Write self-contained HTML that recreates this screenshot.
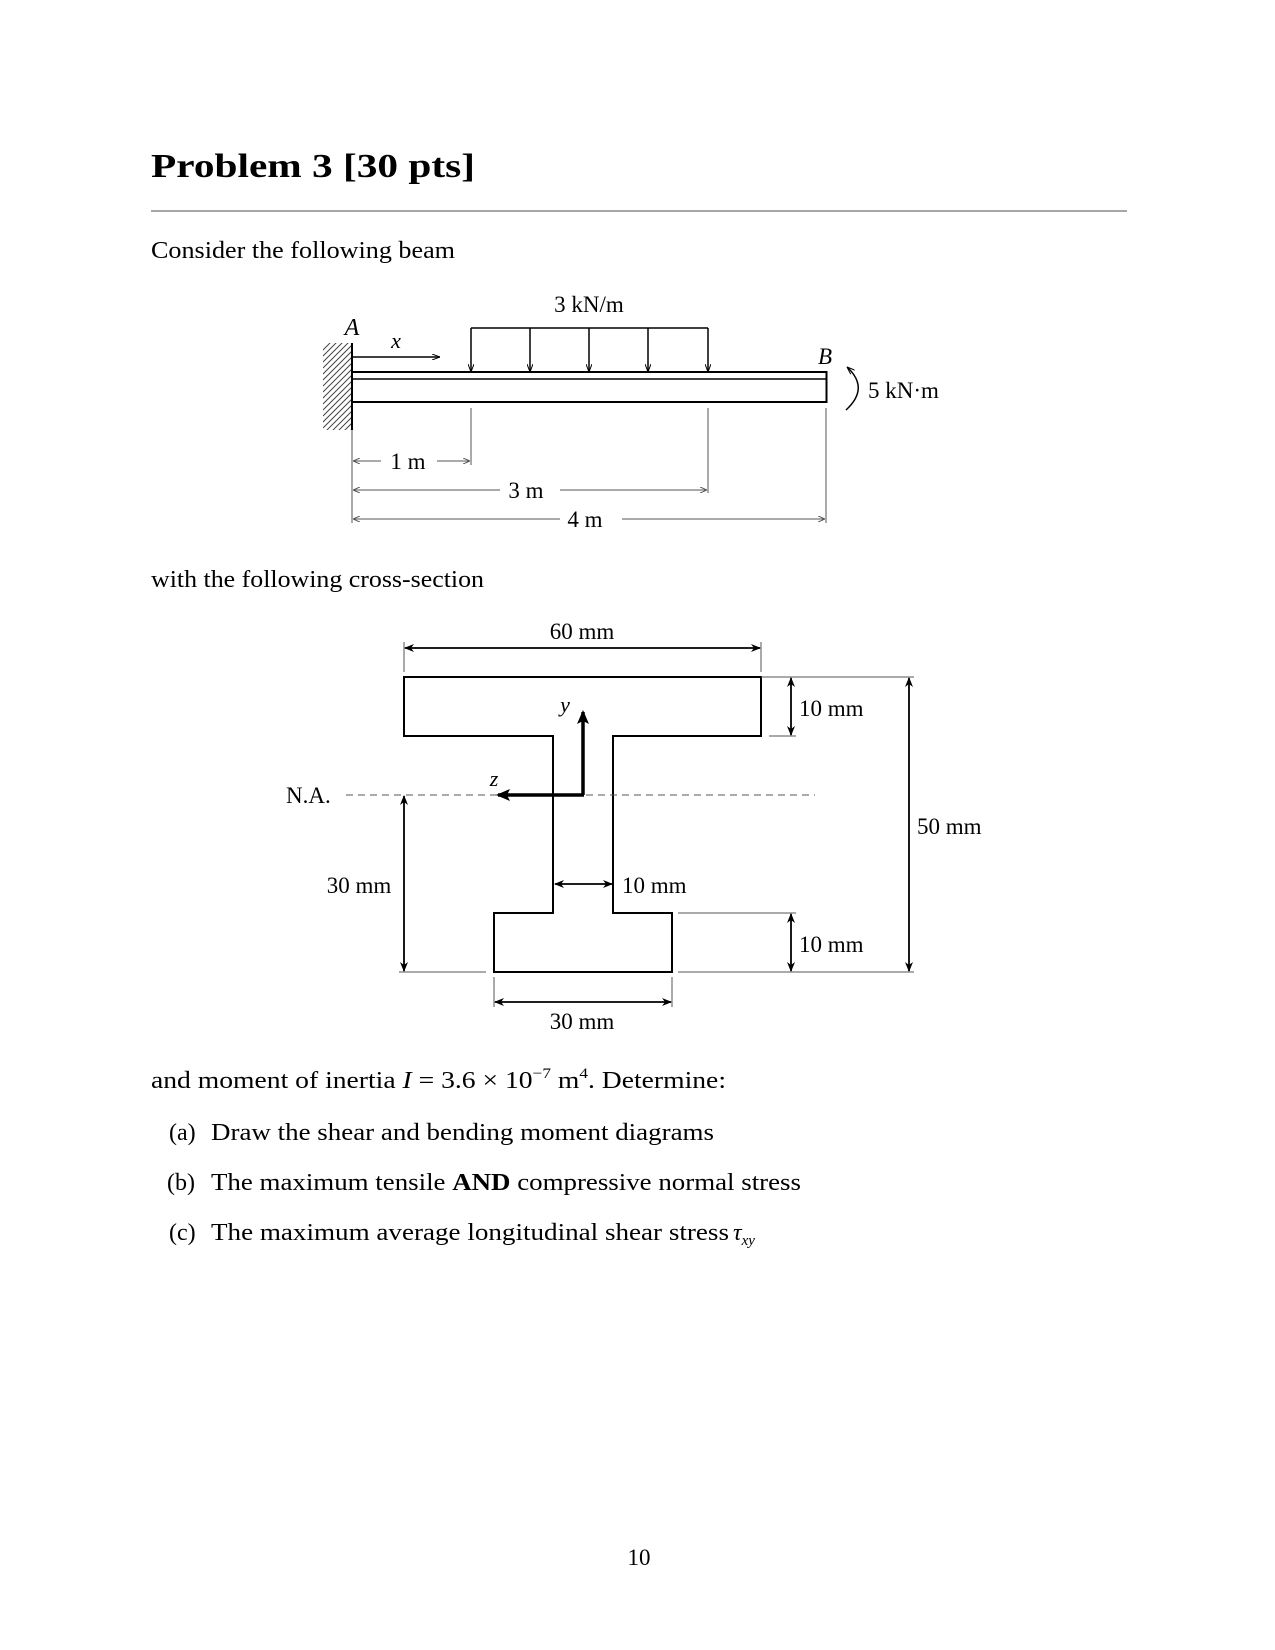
<!DOCTYPE html>
<html><head><meta charset="utf-8"><style>
html,body{margin:0;padding:0;background:#fff;}
svg{display:block;}
text{font-family:"Liberation Serif",serif;fill:#000;}
</style></head><body>
<svg width="1275" height="1650" viewBox="0 0 1275 1650" xmlns="http://www.w3.org/2000/svg">
<defs>
<marker id="ah" markerWidth="10" markerHeight="8" refX="9" refY="4" orient="auto" markerUnits="userSpaceOnUse"><path d="M0,0 L10,4 L0,8 L3,4 Z" fill="#000"/></marker>
<marker id="as" markerWidth="8" markerHeight="6" refX="8" refY="3" orient="auto" markerUnits="userSpaceOnUse"><path d="M0,0 L8,3 L0,6" fill="none" stroke="#000" stroke-width="1"/></marker>
<marker id="ag" markerWidth="7" markerHeight="6" refX="7" refY="3" orient="auto" markerUnits="userSpaceOnUse"><path d="M0,0 L7,3 L0,6" fill="none" stroke="#555" stroke-width="1"/></marker>
<marker id="ab" markerWidth="14" markerHeight="12" refX="12" refY="6" orient="auto" markerUnits="userSpaceOnUse"><path d="M0,0 L14,6 L0,12 L3,6 Z" fill="#000"/></marker>
<clipPath id="wc"><rect x="323" y="343" width="29" height="87"/></clipPath>
</defs>

<!-- Header -->
<text x="151" y="177" font-size="34" font-weight="bold" textLength="324" lengthAdjust="spacingAndGlyphs">Problem 3 [30 pts]</text>
<line x1="151" y1="211" x2="1127" y2="211" stroke="#888" stroke-width="1.5"/>
<text x="151" y="258" font-size="24" textLength="304" lengthAdjust="spacingAndGlyphs">Consider the following beam</text>

<!-- Beam -->
<g clip-path="url(#wc)" stroke="#444" stroke-width="1">
<path d="M323,350 L352,321 M323,356 L352,327 M323,362 L352,333 M323,368 L352,339 M323,374 L352,345 M323,380 L352,351 M323,386 L352,357 M323,392 L352,363 M323,398 L352,369 M323,404 L352,375 M323,410 L352,381 M323,416 L352,387 M323,422 L352,393 M323,428 L352,399 M323,434 L352,405 M323,440 L352,411 M323,446 L352,417 M323,452 L352,423 M323,458 L352,429"/>
</g>
<line x1="352" y1="343" x2="352" y2="430" stroke="#000" stroke-width="2"/>
<rect x="352" y="372" width="474.5" height="30" fill="none" stroke="#000" stroke-width="2"/>
<line x1="352" y1="379" x2="826" y2="379" stroke="#000" stroke-width="1.5"/>
<line x1="352" y1="357" x2="440" y2="357" stroke="#000" stroke-width="1.5" marker-end="url(#as)"/>
<text x="396" y="348" font-size="22" font-style="italic" text-anchor="middle">x</text>
<text x="352" y="335" font-size="24" font-style="italic" text-anchor="middle">A</text>
<line x1="471" y1="328" x2="708" y2="328" stroke="#000" stroke-width="1.5"/>
<g stroke="#000" stroke-width="1.5">
<line x1="471" y1="328" x2="471" y2="372" marker-end="url(#as)"/>
<line x1="530" y1="328" x2="530" y2="372" marker-end="url(#as)"/>
<line x1="589" y1="328" x2="589" y2="372" marker-end="url(#as)"/>
<line x1="648" y1="328" x2="648" y2="372" marker-end="url(#as)"/>
<line x1="708" y1="328" x2="708" y2="372" marker-end="url(#as)"/>
</g>
<text x="589" y="312" font-size="23" text-anchor="middle">3 kN/m</text>
<text x="825" y="364" font-size="23" font-style="italic" text-anchor="middle">B</text>
<path d="M846,410 Q870,388 847,367" fill="none" stroke="#000" stroke-width="1.5" marker-end="url(#as)"/>
<text x="868" y="398" font-size="23">5 kN·m</text>
<!-- dimension lines -->
<g stroke="#555" stroke-width="1">
<line x1="471" y1="408" x2="471" y2="465"/>
<line x1="708" y1="408" x2="708" y2="493"/>
<line x1="826" y1="408" x2="826" y2="523"/>
<line x1="352" y1="430" x2="352" y2="523"/>
<line x1="381" y1="461" x2="353" y2="461" marker-end="url(#ag)"/>
<line x1="437" y1="461" x2="470" y2="461" marker-end="url(#ag)"/>
<line x1="500" y1="490" x2="353" y2="490" marker-end="url(#ag)"/>
<line x1="560" y1="490" x2="707" y2="490" marker-end="url(#ag)"/>
<line x1="560" y1="519" x2="353" y2="519" marker-end="url(#ag)"/>
<line x1="622" y1="519" x2="825" y2="519" marker-end="url(#ag)"/>
</g>
<text x="408" y="469" font-size="23" text-anchor="middle">1 m</text>
<text x="526" y="498" font-size="23" text-anchor="middle">3 m</text>
<text x="585" y="527" font-size="23" text-anchor="middle">4 m</text>

<text x="151" y="587" font-size="24" textLength="333" lengthAdjust="spacingAndGlyphs">with the following cross-section</text>

<!-- Cross-section -->
<path d="M404,677 L761,677 L761,736 L613,736 L613,913 L672,913 L672,972 L494,972 L494,913 L553,913 L553,736 L404,736 Z" fill="none" stroke="#000" stroke-width="2"/>
<line x1="346" y1="795" x2="815" y2="795" stroke="#555" stroke-width="1" stroke-dasharray="7,5"/>
<text x="286" y="803" font-size="23">N.A.</text>
<line x1="583" y1="795" x2="583" y2="712" stroke="#000" stroke-width="3.5" marker-end="url(#ab)"/>
<line x1="584" y1="795" x2="498" y2="795" stroke="#000" stroke-width="3.5" marker-end="url(#ab)"/>
<text x="565" y="712" font-size="22" font-style="italic" text-anchor="middle">y</text>
<text x="494" y="786" font-size="22" font-style="italic" text-anchor="middle">z</text>
<!-- 60 mm -->
<g stroke="#555" stroke-width="1">
<line x1="404" y1="642" x2="404" y2="672"/>
<line x1="761" y1="642" x2="761" y2="672"/>
<line x1="761" y1="677" x2="914" y2="677"/>
<line x1="769" y1="736" x2="796" y2="736"/>
<line x1="678" y1="913" x2="796" y2="913"/>
<line x1="678" y1="972" x2="914" y2="972"/>
<line x1="399" y1="972" x2="486" y2="972"/>
<line x1="494" y1="977" x2="494" y2="1007"/>
<line x1="672" y1="977" x2="672" y2="1007"/>
</g>
<g stroke="#000" stroke-width="1.8">
<line x1="500" y1="648" x2="405" y2="648" marker-end="url(#ah)"/>
<line x1="500" y1="648" x2="760" y2="648" marker-end="url(#ah)"/>
<line x1="791" y1="706" x2="791" y2="678" marker-end="url(#ah)"/>
<line x1="791" y1="706" x2="791" y2="735" marker-end="url(#ah)"/>
<line x1="791" y1="942" x2="791" y2="914" marker-end="url(#ah)"/>
<line x1="791" y1="942" x2="791" y2="971" marker-end="url(#ah)"/>
<line x1="909" y1="820" x2="909" y2="678" marker-end="url(#ah)"/>
<line x1="909" y1="820" x2="909" y2="971" marker-end="url(#ah)"/>
<line x1="404" y1="880" x2="404" y2="796" marker-end="url(#ah)"/>
<line x1="404" y1="880" x2="404" y2="971" marker-end="url(#ah)"/>
<line x1="584" y1="884" x2="555" y2="884" marker-end="url(#ah)"/>
<line x1="584" y1="884" x2="612" y2="884" marker-end="url(#ah)"/>
<line x1="583" y1="1002" x2="495" y2="1002" marker-end="url(#ah)"/>
<line x1="583" y1="1002" x2="671" y2="1002" marker-end="url(#ah)"/>
</g>
<text x="582" y="639" font-size="23" text-anchor="middle">60 mm</text>
<text x="799" y="716" font-size="23">10 mm</text>
<text x="799" y="952" font-size="23">10 mm</text>
<text x="917" y="834" font-size="23">50 mm</text>
<text x="359" y="893" font-size="23" text-anchor="middle">30 mm</text>
<text x="622" y="893" font-size="23">10 mm</text>
<text x="582" y="1029" font-size="23" text-anchor="middle">30 mm</text>

<!-- Bottom text -->
<text x="151" y="1088" font-size="24" textLength="575" lengthAdjust="spacingAndGlyphs">and moment of inertia <tspan font-style="italic">I</tspan> = 3.6 × 10<tspan font-size="15" dy="-10">−7</tspan><tspan dy="10"> m</tspan><tspan font-size="15" dy="-10">4</tspan><tspan dy="10">. Determine:</tspan></text>
<text x="169" y="1140" font-size="24">(a)</text>
<text x="211" y="1140" font-size="24" textLength="503" lengthAdjust="spacingAndGlyphs">Draw the shear and bending moment diagrams</text>
<text x="167" y="1190" font-size="24">(b)</text>
<text x="211" y="1190" font-size="24" textLength="590" lengthAdjust="spacingAndGlyphs">The maximum tensile <tspan font-weight="bold">AND</tspan> compressive normal stress</text>
<text x="169" y="1240" font-size="24">(c)</text>
<text x="211" y="1240" font-size="24" textLength="518" lengthAdjust="spacingAndGlyphs">The maximum average longitudinal shear stress</text>
<text x="733" y="1240" font-size="24" font-style="italic">τ<tspan font-size="15" dy="5">xy</tspan></text>

<text x="639" y="1565" font-size="23" text-anchor="middle">10</text>
</svg>
</body></html>
